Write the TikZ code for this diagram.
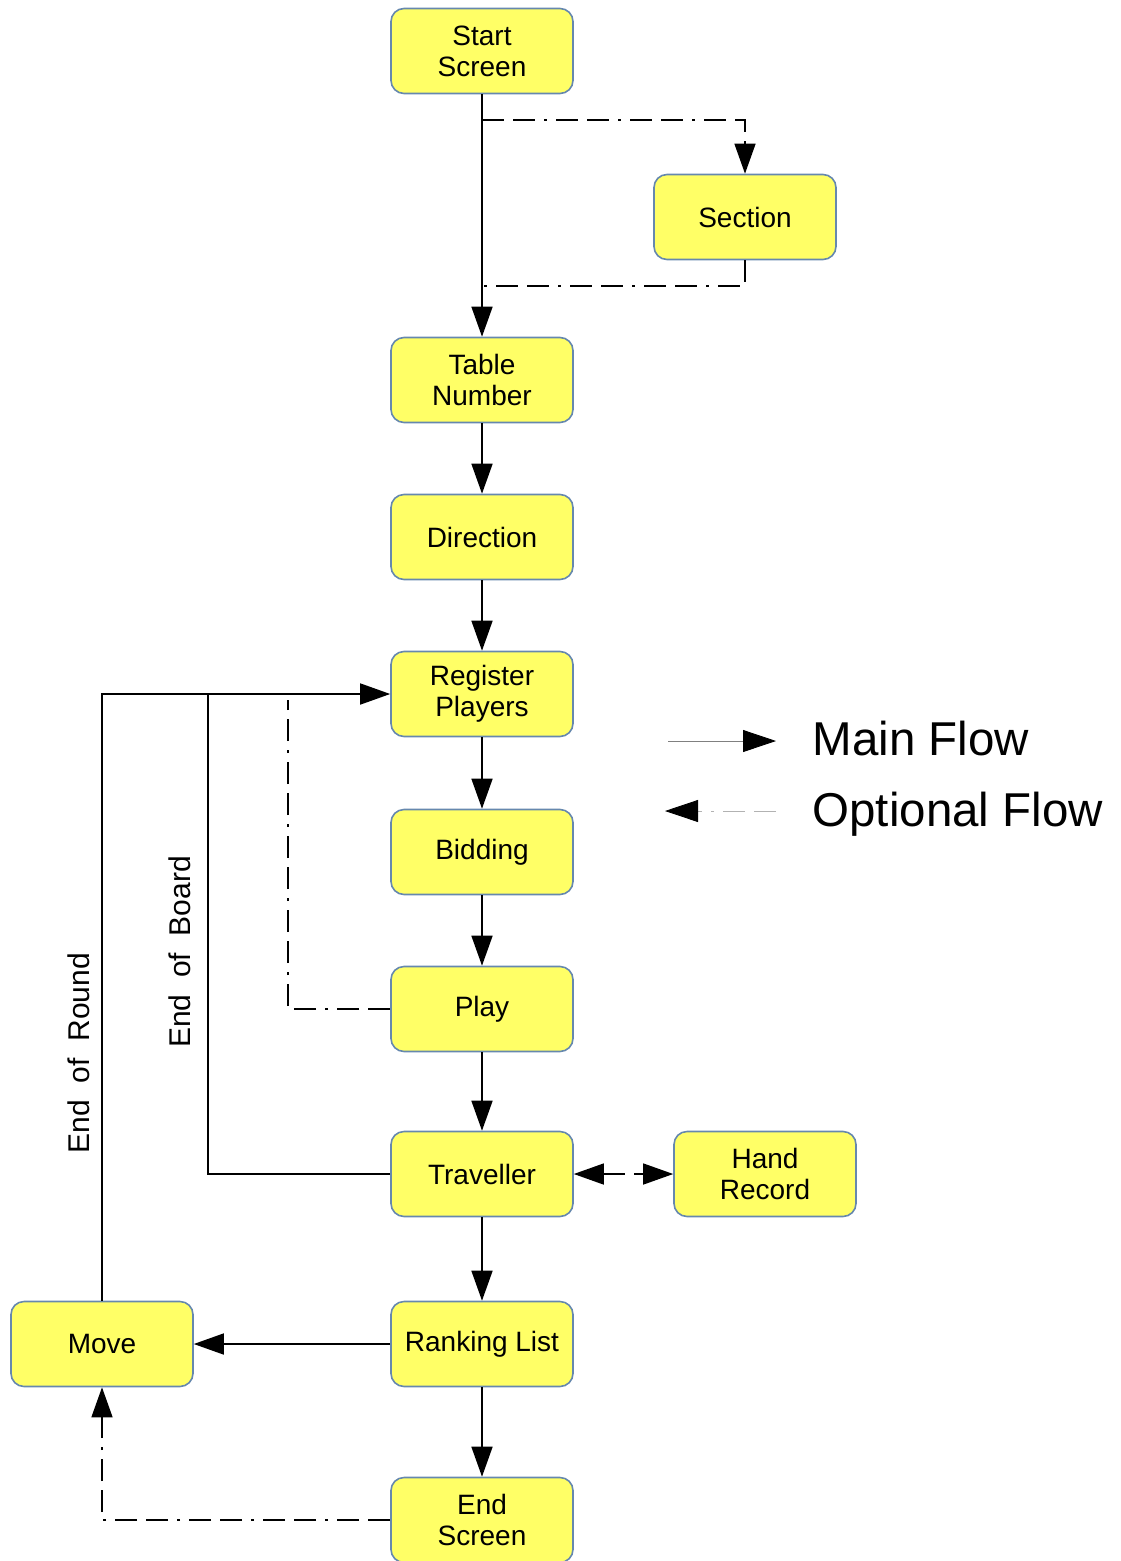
\documentclass[tikz,border=0pt]{standalone}
\usepackage{fontspec}
\setmainfont{Liberation Sans}
\usetikzlibrary{arrows.meta}
\definecolor{boxfill}{HTML}{FFFF66}
\definecolor{boxline}{HTML}{6688AE}
\begin{document}
\begin{tikzpicture}[x=1pt,y=-1pt,
  stepbox/.style={draw=boxline, line width=1.6pt, fill=boxfill, rounded corners=13pt,
    minimum width=182pt, minimum height=85pt, inner sep=0pt, align=center,
    font=\fontsize{28}{31}\selectfont},
  tip/.style={-{Triangle[length=30pt,width=21pt]}},
  mainline/.style={line width=1.6pt, black},
  optline/.style={line width=1.4pt, black,
    dash pattern=on 22pt off 9pt on 22pt off 9pt on 3pt off 9pt},
  sidelabel/.style={rotate=90, font=\fontsize{30}{34}\selectfont},
  legendtext/.style={anchor=west, font=\fontsize{47.5}{52}\selectfont}]
\useasboundingbox (0,0) rectangle (1121,1561);

% boxes
\node[stepbox] (start) at (482,51) {Start\\Screen};
\node[stepbox] (section) at (745,217) {Section};
\node[stepbox] (table) at (482,380) {Table\\Number};
\node[stepbox] (dir) at (482,537) {Direction};
\node[stepbox] (reg) at (482,694) {Register\\Players};
\node[stepbox] (bid) at (482,852) {Bidding};
\node[stepbox] (play) at (482,1009) {Play};
\node[stepbox] (trav) at (482,1174) {Traveller};
\node[stepbox] (hand) at (765,1174) {Hand\\Record};
\node[stepbox] (rank) at (482,1344) {Ranking List};
\node[stepbox] (move) at (102,1344) {Move};
\node[stepbox] (fin) at (482,1520) {End\\Screen};

% corner points of the side branches
\coordinate (secIn) at (482,120);
\coordinate (secOut) at (482,286);
\coordinate (boardUp) at (208,694);
\coordinate (playUp) at (288,700);

% main flow
\draw[mainline,tip] (start) -- (table);
\draw[mainline,tip] (table) -- (dir);
\draw[mainline,tip] (dir) -- (reg);
\draw[mainline,tip] (reg) -- (bid);
\draw[mainline,tip] (bid) -- (play);
\draw[mainline,tip] (play) -- (trav);
\draw[mainline,tip] (trav) -- (rank);
\draw[mainline,tip] (rank) -- (fin);
\draw[mainline,tip] (rank) -- (move);
\draw[mainline,tip] (move.north) |- (reg.west);
\draw[mainline] (trav.west) -| (boardUp);

% optional flow
\draw[optline,tip] (secIn) -| (section.north);
\draw[optline] (section.south) |- (secOut);
\draw[optline] (play.west) -| (playUp);
\draw[optline,{Triangle[length=30pt,width=21pt]}-{Triangle[length=30pt,width=21pt]}] (trav) -- (hand);
\draw[optline,tip] (fin.west) -| (move.south);

% loop labels
\node[sidelabel] (roundlbl) at (79,1053) {End\ \ of\ \ Round};
\node[sidelabel] (boardlbl) at (180,952) {End\ \ of\ \ Board};

% legend
\coordinate (mainA) at (668,741);
\coordinate (mainB) at (776,741);
\coordinate (optA) at (776,811);
\coordinate (optB) at (665,811);
\draw[line width=0.8pt, gray, -{Triangle[length=33pt,width=22pt,fill=black,color=black]}] (mainA) -- (mainB);
\draw[line width=0.8pt, gray!60, dash pattern=on 22pt off 9pt on 22pt off 9pt on 3pt off 9pt,
  -{Triangle[length=33pt,width=22pt,fill=black,color=black]}] (optA) -- (optB);
\node[legendtext] (mainlbl) at (809,739) {Main Flow};
\node[legendtext] (optlbl) at (809,814) {Optional Flow};
\end{tikzpicture}
\end{document}
